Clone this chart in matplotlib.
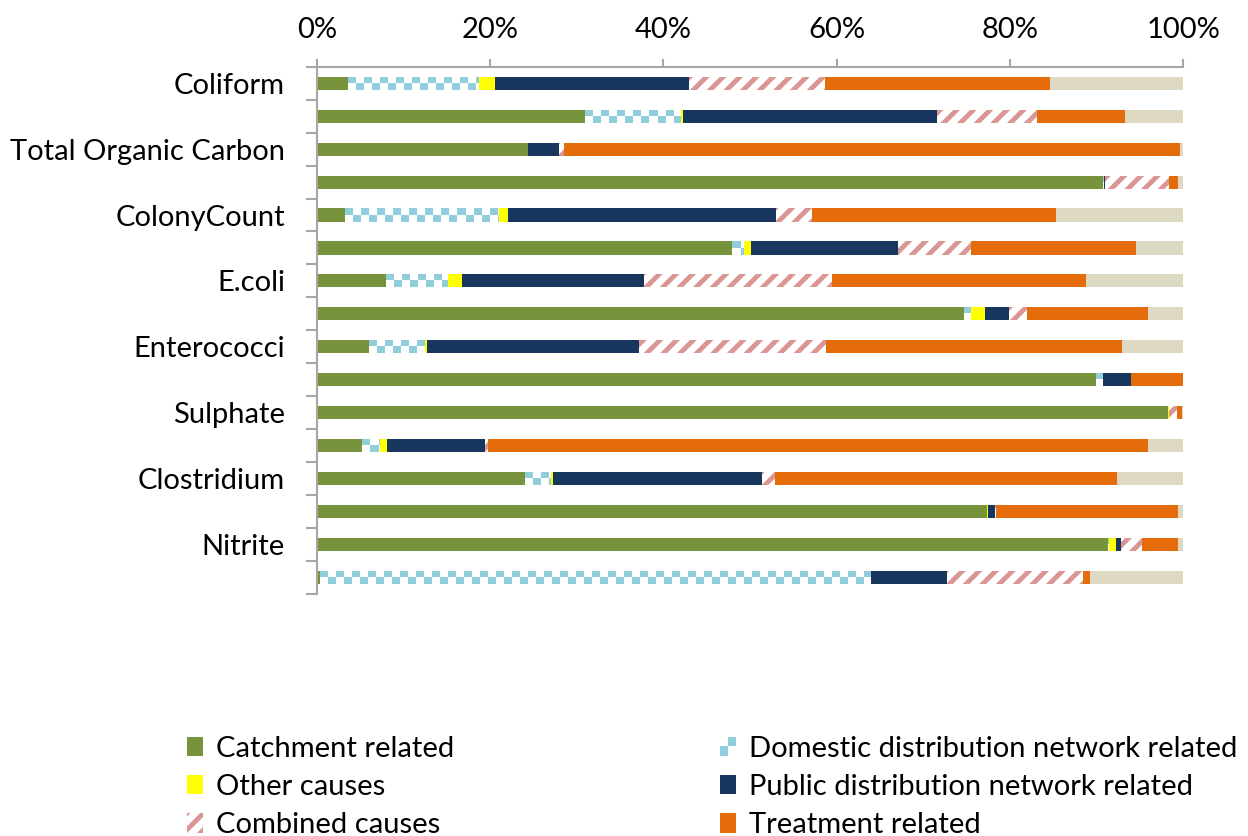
import numpy as np
import matplotlib.pyplot as plt
from matplotlib.patches import Patch, Rectangle
from matplotlib.colors import ListedColormap
from matplotlib.legend_handler import HandlerBase

plt.rcParams['font.family'] = ['Lato', 'DejaVu Sans']
plt.rcParams['hatch.linewidth'] = 3.5

# ---------------- data (% of events per cause) ----------------
row_labels = ["Coliform", "", "Total Organic Carbon", "", "ColonyCount", "",
              "E.coli", "", "Enterococci", "", "Sulphate", "",
              "Clostridium", "", "Nitrite", ""]

catchment = [3.6, 31.0, 24.4, 90.7, 3.2, 47.9, 8.0, 74.7, 6.0, 90.0, 98.3, 5.2, 24.0, 77.4, 91.3, 0.3]
domestic = [15.1, 11.0, 0.0, 0.1, 17.7, 1.3, 7.1, 0.8, 6.4, 0.7, 0.0, 2.0, 3.0, 0.0, 0.1, 63.6]
other = [1.9, 0.3, 0.0, 0.0, 1.1, 0.9, 1.6, 1.6, 0.3, 0.0, 0.1, 0.9, 0.3, 0.1, 0.9, 0.1]
public = [22.4, 29.3, 3.5, 0.2, 31.0, 17.0, 21.1, 2.8, 24.5, 3.3, 0.0, 11.3, 24.1, 0.8, 0.5, 8.7]
combined = [15.7, 11.5, 0.6, 7.4, 4.1, 8.4, 21.7, 2.1, 21.6, 0.0, 0.9, 0.3, 1.5, 0.1, 2.4, 15.7]
treatment = [25.9, 10.2, 71.1, 1.0, 28.2, 19.1, 29.3, 13.9, 34.2, 6.0, 0.6, 76.3, 39.5, 21.0, 4.2, 0.9]
unknown = [15.4, 6.7, 0.4, 0.6, 14.7, 5.4, 11.2, 4.1, 7.0, 0.0, 0.1, 4.0, 7.6, 0.6, 0.6, 10.7]

x_ticks = [0, 20, 40, 60, 80, 100]
x_ticklabels = ["0%", "20%", "40%", "60%", "80%", "100%"]

# ---------------- styles ----------------
GREEN = "#77933C"
LBLUE = "#92CDDC"
YELLOW = "#FFFF00"
NAVY = "#17375E"
PINK = "#D99694"
ORANGE = "#E46C0A"
BEIGE = "#DDD9C3"
GRAY = "#A6A6A6"
FS = 21


class CheckerHandler(HandlerBase):
    # small 2x2 checker square for the legend
    def create_artists(self, legend, orig_handle, xdescent, ydescent,
                       width, height, fontsize, trans):
        w, h = width / 2, height / 2
        arts = []
        for i in range(2):
            for j in range(2):
                c = LBLUE if (i + j) % 2 == 0 else "white"
                arts.append(Rectangle((-xdescent + i * w, -ydescent + j * h), w, h,
                                      facecolor=c, edgecolor="none", transform=trans))
        return arts


fig = plt.figure(figsize=(12.48, 8.36), dpi=100)
ax = fig.add_axes([0.254, 0.290, 0.694, 0.630])

n = len(row_labels)
y = np.arange(n)
bar_h = 0.4
left = np.zeros(n)

series = [
    ("Catchment related", catchment, dict(color=GREEN)),
    ("Domestic distribution network related", domestic, dict(color="white")),
    ("Other causes", other, dict(color=YELLOW)),
    ("Public distribution network related", public, dict(color=NAVY)),
    ("Combined causes", combined, dict(facecolor="white", edgecolor=PINK, hatch="//", linewidth=0)),
    ("Treatment related", treatment, dict(color=ORANGE)),
    ("Unknown", unknown, dict(color=BEIGE)),
]

checker_cmap = ListedColormap(["white", LBLUE])
sq = 8 / (ax.get_position().width * fig.bbox.width / 100)  # 8px squares in data units

for name, vals, style in series:
    vals = np.array(vals)
    bars = ax.barh(y, vals, left=left, height=bar_h, **style)
    if name.startswith("Domestic"):
        # checkerboard fill clipped to each bar
        for b in bars:
            if b.get_width() <= 0:
                continue
            ncols = int(np.ceil(b.get_width() / sq)) + 1
            img = (np.indices((2, ncols)).sum(axis=0) + 1) % 2
            im = ax.imshow(img, cmap=checker_cmap, interpolation="nearest", aspect="auto",
                           extent=(b.get_x(), b.get_x() + ncols * sq,
                                   b.get_y() + b.get_height(), b.get_y()),
                           zorder=b.get_zorder() + 0.1)
            im.set_clip_path(b)
    left += vals

ax.set_xlim(0, 100)
ax.set_ylim(n - 0.5, -0.5)

# x axis on top
ax.xaxis.tick_top()
ax.set_xticks(x_ticks)
ax.set_xticklabels(x_ticklabels, fontsize=FS)
ax.tick_params(axis="x", direction="out", length=6, width=1.5, color=GRAY, pad=11)

# y: ticks at row boundaries, labels at every other row centre
ax.set_yticks(np.arange(-0.5, n, 1.0))
ax.set_yticklabels([])
ax.tick_params(axis="y", which="major", direction="out", length=8, width=1.5, color=GRAY)
ax.set_yticks(y, minor=True)
ax.set_yticklabels(row_labels, minor=True, fontsize=FS)
ax.tick_params(axis="y", which="minor", length=0, pad=23)

for side in ["right", "bottom"]:
    ax.spines[side].set_visible(False)
for side in ["top", "left"]:
    ax.spines[side].set_color(GRAY)
    ax.spines[side].set_linewidth(1.5)

checker_handle = Patch(label="Domestic distribution network related")
handles = [
    Patch(facecolor=GREEN, label="Catchment related"),
    Patch(facecolor=YELLOW, label="Other causes"),
    Patch(facecolor="white", edgecolor=PINK, hatch="//", linewidth=0, label="Combined causes"),
    checker_handle,
    Patch(facecolor=NAVY, label="Public distribution network related"),
    Patch(facecolor=ORANGE, label="Treatment related"),
]
fig.legend(handles=handles, ncol=2, loc="upper left", bbox_to_anchor=(0.150, 0.120),
           frameon=False, fontsize=FS, handlelength=0.55, handleheight=0.65,
           handletextpad=0.45, columnspacing=9.1, labelspacing=0.42,
           borderpad=0, borderaxespad=0, handler_map={checker_handle: CheckerHandler()})

fig.savefig("out.png", dpi=100)
